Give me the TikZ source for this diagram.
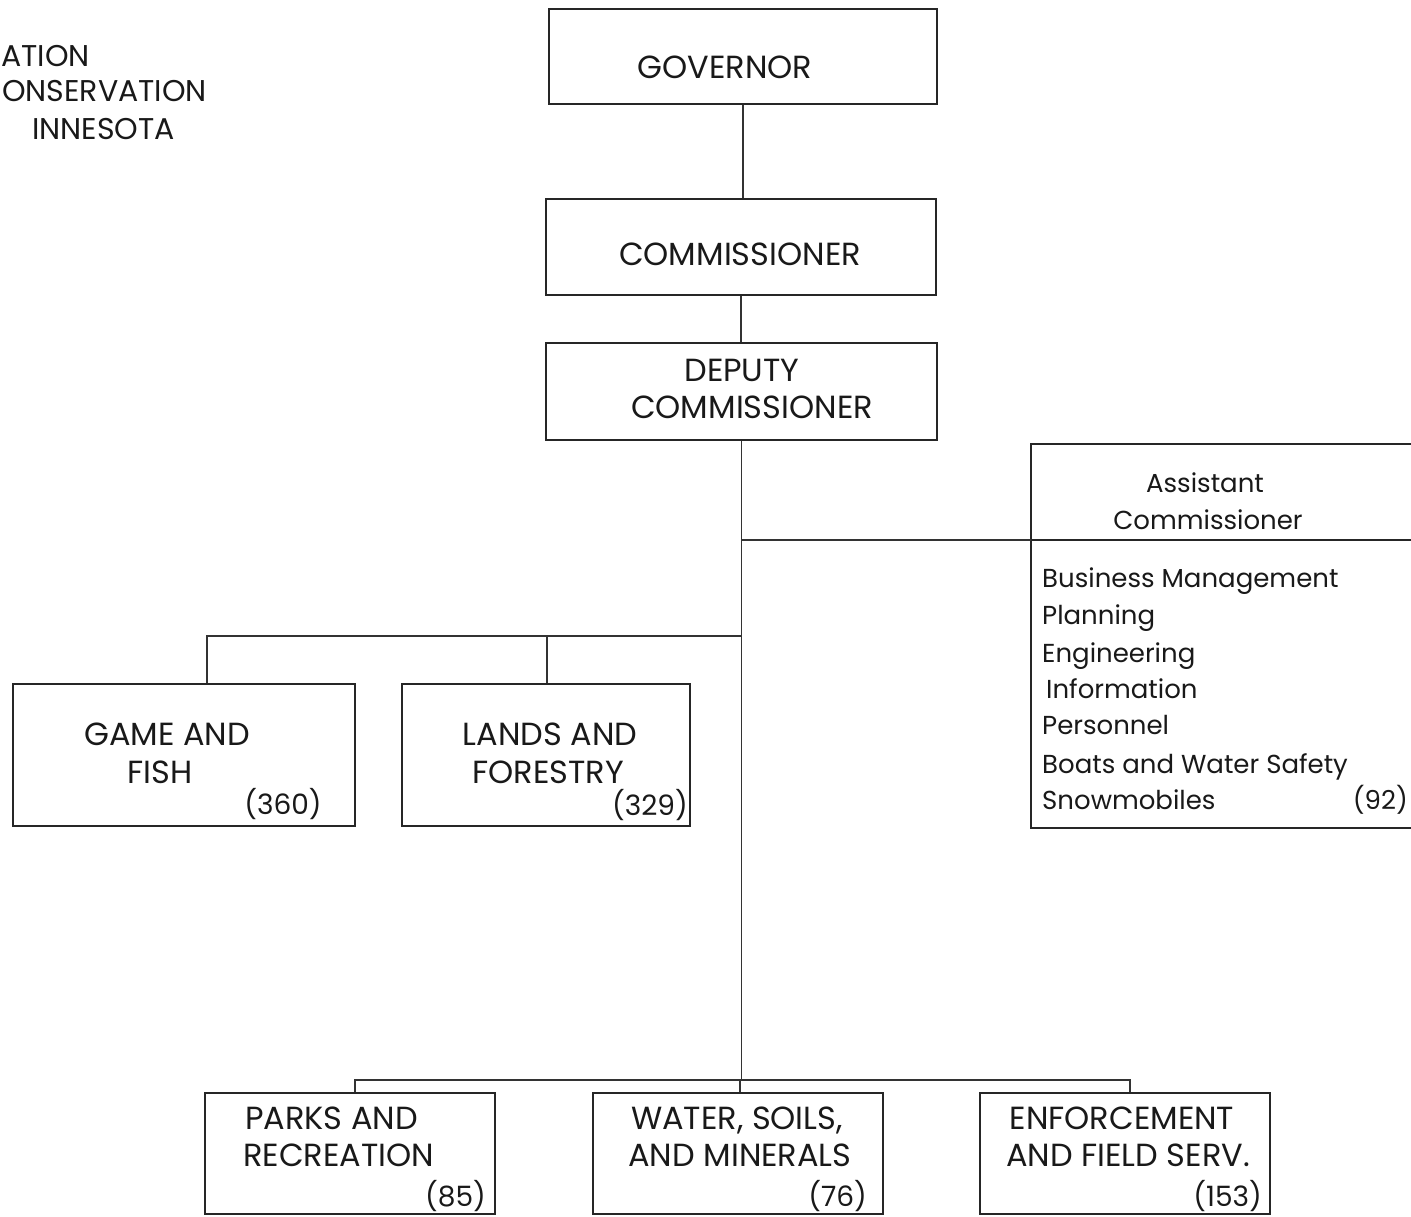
\documentclass[tikz,border=0pt]{standalone}
\usepackage{fontspec}
\setmainfont{Poppins}
\begin{document}
\begin{tikzpicture}[x=1pt,y=-1pt,
  box/.style={draw=black!85,line width=1.7pt,inner sep=0pt,minimum width=#1},
  wire/.style={draw=black!80,line width=1.3pt},
  lbl/.style={inner sep=0pt,font=\fontsize{32}{38}\selectfont,text=black!90},
  hdr/.style={inner sep=0pt,font=\fontsize{30}{36}\selectfont,text=black!90},
  num/.style={inner sep=0pt,font=\fontsize{28}{34}\selectfont,text=black!90},
  sml/.style={inner sep=0pt,font=\fontsize{26}{31}\selectfont,text=black!90}]
\useasboundingbox[fill=white] (0,0) rectangle (1411,1216);

% heading, partly cut off at the left edge
\node[hdr,anchor=base west] (h1) at (1,66) {ATION};
\node[hdr,anchor=base east] (h2) at (207,101) {ONSERVATION};
\node[hdr,anchor=base east] (h3) at (175,139) {INNESOTA};

% executive chain
\node[box=388pt,minimum height=95pt] (gov) at (743,56.5) {};
\node[box=390pt,minimum height=96pt] (com) at (741,247) {};
\node[box=391pt,minimum height=97pt] (dep) at (741.5,391.5) {};
\node[lbl,anchor=base] (tgov) at (725,78) {GOVERNOR};
\node[lbl,anchor=base] (tcom) at (740,265) {COMMISSIONER};
\node[lbl,anchor=base] (tdep1) at (742,381) {DEPUTY};
\node[lbl,anchor=base] (tdep2) at (752,418) {COMMISSIONER};

% assistant commissioner panel (runs off the right edge)
\node[box=409pt,minimum height=384pt] (asst) at (1235.5,636) {};
\coordinate (adiv) at (1031,540);
\coordinate (adivr) at (1445,540);
\node[sml,anchor=base] (ta1) at (1205,492) {Assistant};
\node[sml,anchor=base] (ta2) at (1208,529) {Commissioner};
\node[sml,anchor=base west] (i1) at (1042,587) {Business Management};
\node[sml,anchor=base west] (i2) at (1042,624) {Planning};
\node[sml,anchor=base west] (i3) at (1042,662) {Engineering};
\node[sml,anchor=base west] (i4) at (1046,698) {Information};
\node[sml,anchor=base west] (i5) at (1042,734) {Personnel};
\node[sml,anchor=base west] (i6) at (1042,773) {Boats and Water Safety};
\node[sml,anchor=base west] (i7) at (1042,809) {Snowmobiles};
\node[sml,anchor=base east] (n7) at (1408,809) {(92)};

% upper divisions
\node[box=342pt,minimum height=142pt] (game) at (184,755) {};
\node[box=288pt,minimum height=142pt] (lands) at (546,755) {};
\node[lbl,anchor=base] (tg1) at (167,745) {GAME AND};
\node[lbl,anchor=base] (tg2) at (160,783) {FISH};
\node[num,anchor=base] (tg3) at (283,814) {(360)};
\node[lbl,anchor=base] (tl1) at (550,745) {LANDS AND};
\node[lbl,anchor=base] (tl2) at (548,783) {FORESTRY};
\node[num,anchor=base east] (tl3) at (688,815) {(329)};

% lower divisions
\node[box=290pt,minimum height=121pt] (parks) at (350,1153.5) {};
\node[box=290pt,minimum height=121pt] (water) at (738,1153.5) {};
\node[box=290pt,minimum height=121pt] (enf) at (1125,1153.5) {};
\node[lbl,anchor=base west] (tp1) at (245,1129) {PARKS AND};
\node[lbl,anchor=base west] (tp2) at (243,1166) {RECREATION};
\node[num,anchor=base east] (tp3) at (486,1206) {(85)};
\node[lbl,anchor=base] (tw1) at (737,1129) {WATER, SOILS,};
\node[lbl,anchor=base] (tw2) at (740,1166) {AND MINERALS};
\node[num,anchor=base east] (tw3) at (867,1206) {(76)};
\node[lbl,anchor=base] (te1) at (1122,1129) {ENFORCEMENT};
\node[lbl,anchor=base] (te2) at (1128,1166) {AND FIELD SERV.};
\node[num,anchor=base east] (te3) at (1262,1206) {(153)};

% connectors
\draw[wire] (gov.south) -- (gov.south |- com.north);
\draw[wire] (com.south) -- (com.south |- dep.north);
\draw[wire] (dep.south) -- (dep.south |- 0,1080);
\draw[wire] (dep.south |- adiv) -- (adiv);
\draw[box] (adiv) -- (adivr);
\draw[wire] (dep.south |- 0,636) -| ([xshift=23pt]game.north);
\draw[wire] ([xshift=1pt]lands.north) -- ++(0,-48);
\draw[wire] ([xshift=5pt]parks.north) |- ([xshift=5pt]enf.north |- 0,1080) -- ([xshift=5pt]enf.north);
\draw[wire] ([xshift=2pt]water.north) -- ++(0,-13);
\end{tikzpicture}
\end{document}
